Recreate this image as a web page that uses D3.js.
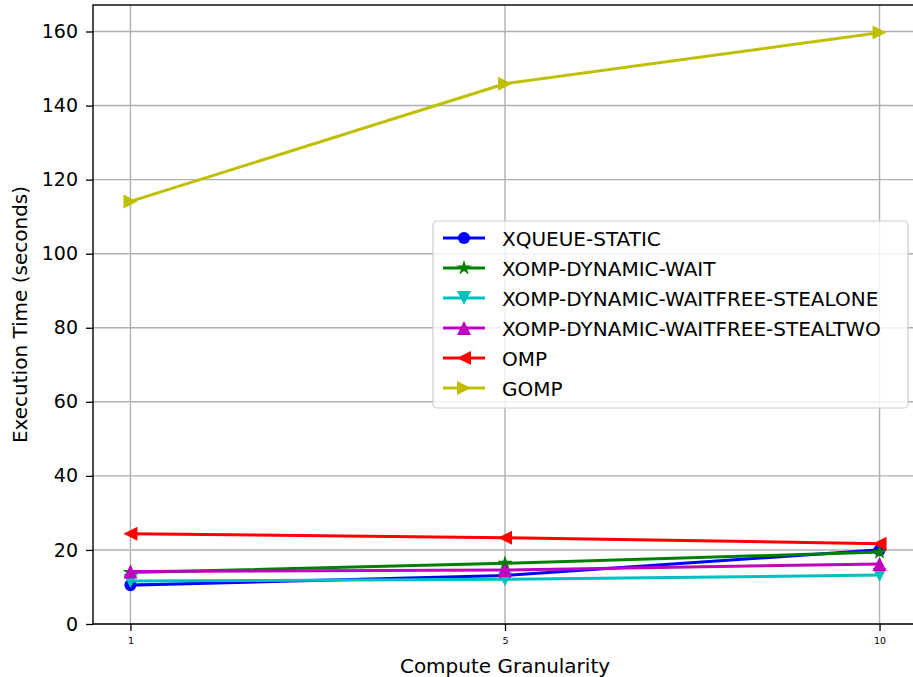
<!DOCTYPE html>
<html>
<head>
<meta charset="utf-8">
<script src="https://cdn.jsdelivr.net/npm/d3@7"></script>
<style>
  html, body { margin: 0; padding: 0; background: #fff; }
  svg { display: block; font-family: "DejaVu Sans", sans-serif; }
</style>
</head>
<body>
<svg id="chart" width="913" height="677"></svg>
<script>
// Compute granularity settings (evenly spaced on the x axis)
const granularities = ["1", "5", "10"];

// Execution time in seconds per scheduler
const seriesNames = [
  "XQUEUE-STATIC",
  "XOMP-DYNAMIC-WAIT",
  "XOMP-DYNAMIC-WAITFREE-STEALONE",
  "XOMP-DYNAMIC-WAITFREE-STEALTWO",
  "OMP",
  "GOMP"
];
const xqueueStatic = [10.5, 13.1, 20.0];
const xompDynamicWait = [13.9, 16.4, 19.4];
const xompStealOne = [11.6, 12.1, 13.2];
const xompStealTwo = [14.2, 14.6, 16.2];
const omp = [24.4, 23.3, 21.7];
const gomp = [114.1, 145.9, 159.7];

const yTicks = [0, 20, 40, 60, 80, 100, 120, 140, 160];

const seriesValues = [xqueueStatic, xompDynamicWait, xompStealOne, xompStealTwo, omp, gomp];
const seriesColors = ["#0000ff", "#008000", "#00bfbf", "#bf00bf", "#ff0000", "#bfbf00"];
const seriesMarkers = ["circle", "star", "down", "up", "left", "right"];

const svg = d3.select("#chart");
const plot = { left: 93, right: 917, top: 5, bottom: 624 };

const x = d3.scaleLinear().domain([-0.1, 2.1]).range([plot.left, plot.right]);
const yMax = 159.7 + 0.05 * (159.7 - 10.5);
const y = d3.scaleLinear().domain([0, yMax]).range([plot.bottom, plot.top]);

// Grid lines
const grid = svg.append("g");
granularities.forEach((g, i) => {
  grid.append("line")
    .attr("x1", x(i)).attr("x2", x(i))
    .attr("y1", plot.top).attr("y2", plot.bottom)
    .attr("stroke", "#b0b0b0").attr("stroke-width", 1.4);
});
yTicks.forEach(t => {
  grid.append("line")
    .attr("x1", plot.left).attr("x2", plot.right)
    .attr("y1", y(t)).attr("y2", y(t))
    .attr("stroke", "#b0b0b0").attr("stroke-width", 1.4);
});

// Axes
const xAxis = d3.axisBottom(x)
  .tickValues([0, 1, 2])
  .tickFormat((d, i) => granularities[i])
  .tickSize(7).tickPadding(6);
const gx = svg.append("g")
  .attr("transform", `translate(0,${plot.bottom})`)
  .call(xAxis);
gx.select(".domain").remove();
gx.selectAll(".tick line").attr("stroke", "#000").attr("stroke-width", 1.3);
gx.selectAll(".tick text").attr("font-size", 9.5).attr("fill", "#000")
  .attr("font-family", "DejaVu Sans");

const yAxis = d3.axisLeft(y).tickValues(yTicks).tickSize(7).tickPadding(8);
const gy = svg.append("g")
  .attr("transform", `translate(${plot.left},0)`)
  .call(yAxis);
gy.select(".domain").remove();
gy.selectAll(".tick line").attr("stroke", "#000").attr("stroke-width", 1.3);
gy.selectAll(".tick text").attr("font-size", 19).attr("fill", "#000")
  .attr("font-family", "DejaVu Sans");

// Spines
svg.append("rect")
  .attr("x", plot.left).attr("y", plot.top)
  .attr("width", plot.right - plot.left).attr("height", plot.bottom - plot.top)
  .attr("fill", "none").attr("stroke", "#000").attr("stroke-width", 1.4);

// Marker shapes
function markerPath(kind, s) {
  const r = s;
  switch (kind) {
    case "circle":
      return d3.symbol(d3.symbolCircle, Math.PI * r * r * 0.75)();
    case "star":
      return d3.symbol(d3.symbolStar, r * r * 1.5)();
    case "down":
      return `M${-r},${-r}L${r},${-r}L0,${r}Z`;
    case "up":
      return `M${-r},${r}L${r},${r}L0,${-r}Z`;
    case "left":
      return `M${r},${-r}L${r},${r}L${-r},0Z`;
    case "right":
      return `M${-r},${-r}L${-r},${r}L${r},0Z`;
  }
}

const line = d3.line().x((d, i) => x(i)).y(d => y(d));

seriesValues.forEach((vals, k) => {
  const g = svg.append("g");
  g.append("path")
    .attr("d", line(vals))
    .attr("fill", "none")
    .attr("stroke", seriesColors[k])
    .attr("stroke-width", 3)
    .attr("stroke-linejoin", "round")
    .attr("stroke-linecap", "square");
  g.selectAll("path.mk").data(vals).join("path")
    .attr("class", "mk")
    .attr("transform", (d, i) => `translate(${x(i)},${y(d)})`)
    .attr("d", markerPath(seriesMarkers[k], 7))
    .attr("fill", seriesColors[k]);
});

// Axis titles
svg.append("text")
  .attr("x", (plot.left + plot.right) / 2).attr("y", 673)
  .attr("text-anchor", "middle")
  .attr("font-size", 20)
  .text("Compute Granularity");
svg.append("text")
  .attr("transform", `translate(27,${(plot.top + plot.bottom) / 2}) rotate(-90)`)
  .attr("text-anchor", "middle")
  .attr("font-size", 20)
  .text("Execution Time (seconds)");

// Legend
const legend = svg.append("g").attr("transform", "translate(433,221)");
legend.append("rect")
  .attr("x", 0).attr("y", 0).attr("width", 475).attr("height", 187)
  .attr("rx", 4)
  .attr("fill", "#fff").attr("fill-opacity", 0.8)
  .attr("stroke", "#cccccc").attr("stroke-width", 1.2);
seriesNames.forEach((name, k) => {
  const cy = 17 + k * 30;
  legend.append("line")
    .attr("x1", 10).attr("x2", 52).attr("y1", cy).attr("y2", cy)
    .attr("stroke", seriesColors[k]).attr("stroke-width", 3);
  legend.append("path")
    .attr("transform", `translate(31,${cy})`)
    .attr("d", markerPath(seriesMarkers[k], 7))
    .attr("fill", seriesColors[k]);
  legend.append("text")
    .attr("x", 69).attr("y", cy + 7.5)
    .attr("font-size", 20)
    .text(name);
});
</script>
</body>
</html>
